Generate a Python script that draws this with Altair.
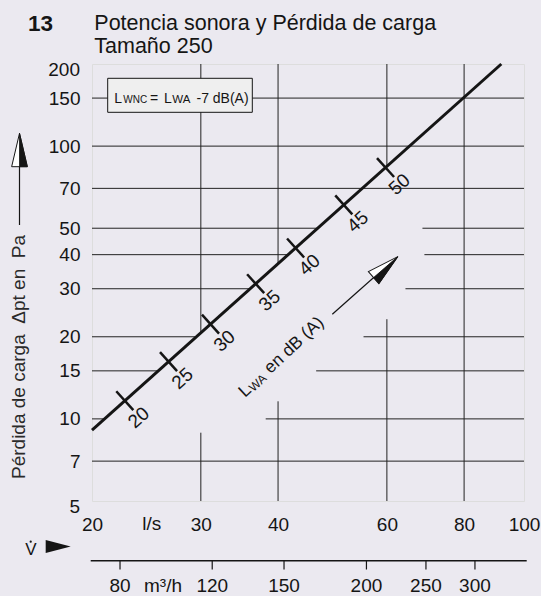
import altair as alt
import numpy as np
import pandas as pd

# ---- axis ticks ------------------------------------------------------------
flow_ticks = [20, 30, 40, 60, 80, 100]                         # l/s
dp_ticks = [7, 10, 15, 20, 30, 40, 50, 70, 100, 150]           # Pa (labelled by the axis)
dp_end_ticks = [5, 200]                                        # Pa (labels nudged off the frame)

# ---- pressure-loss characteristic (straight line on log-log axes) ----------
curve_flow = [20.0, 91.9]
curve_dp = [9.1, 200.0]

# ---- sound power level marks along the characteristic ---------------------
lwa_db = [20, 25, 30, 35, 40, 45, 50]
lwa_flow = [22.6, 26.6, 31.1, 36.8, 42.7, 51.1, 59.7]

# ---- secondary flow scale in m3/h (tick label, position on the l/s axis) ---
m3h_labels = [80, 120, 150, 200, 250, 300]
m3h_pos_ls = [22.2, 31.3, 40.9, 55.6, 69.4, 83.3]

# ---- grid layout: lines left open around the LWA annotation ----------------
h_full = [150, 100, 70, 7]
h_split_dp = [50, 40, 30, 20, 15, 10]
h_split_resume = [68.5, 69.0, 64.3, 55.0, 46.1, 38.2]
v_full = [80]
v_split_flow = [30, 40, 60]
v_split_low_end = [8.9, 11.6, 23.2]

FONT = "Liberation Sans"
INK = "#151515"

k = np.log(curve_dp[1] / curve_dp[0]) / np.log(curve_flow[1] / curve_flow[0])


def dp_on_curve(v):
    return curve_dp[0] * (v / curve_flow[0]) ** k


def flow_on_curve(p):
    return curve_flow[0] * (p / curve_dp[0]) ** (1.0 / k)


seg = []
for p in h_full:
    seg.append((20, 100, p, p))
for p, x_resume in zip(h_split_dp, h_split_resume):
    seg.append((20, flow_on_curve(p), p, p))
    seg.append((x_resume, 100, p, p))
for v in v_full:
    seg.append((v, v, 5, 200))
for v, low_end in zip(v_split_flow, v_split_low_end):
    seg.append((v, v, 5, low_end))
    seg.append((v, v, dp_on_curve(v), 200))
grid_df = pd.DataFrame(seg, columns=["x", "x2", "y", "y2"])

curve_df = pd.DataFrame({"flow": curve_flow, "dp": curve_dp})
marks_df = pd.DataFrame({
    "flow": lwa_flow,
    "dp": [dp_on_curve(v) for v in lwa_flow],
    "db": lwa_db,
})
m3h_df = pd.DataFrame({"pos": m3h_pos_ls, "label": m3h_labels})
end_df = pd.DataFrame({"dp": dp_end_ticks})
one = pd.DataFrame({"k": [0]})

xscale = alt.Scale(type="log", domain=[20, 100], nice=False)
yscale = alt.Scale(type="log", domain=[5, 200], nice=False)


def X(field, **kw):
    return alt.X(field, type="quantitative", scale=xscale, title=None, **kw)


def Y(field, **kw):
    return alt.Y(field, type="quantitative", scale=yscale, title=None, **kw)


def note(text, x, y, size=19, **kw):
    props = dict(text=text, font=FONT, fontSize=size, color=INK,
                 align="left", baseline="alphabetic")
    props.update(kw)
    return alt.Chart(one).mark_text(**props).encode(
        x=alt.value(x), y=alt.value(y))


# ---- grid + axes -----------------------------------------------------------
grid = alt.Chart(grid_df).mark_rule(color="#222222", strokeWidth=1).encode(
    x=alt.X("x:Q", scale=xscale, axis=alt.Axis(
        values=flow_ticks, format="d", title=None, grid=False, domain=False,
        ticks=False, labelFont=FONT, labelFontSize=19,
        labelColor=INK, labelPadding=29, labelBaseline="alphabetic",
        labelOverlap=False, labelFlush=False)),
    x2="x2:Q",
    y=alt.Y("y:Q", scale=yscale, axis=alt.Axis(
        values=dp_ticks, format="d", title=None, grid=False, domain=False,
        ticks=False, labelFont=FONT, labelFontSize=19,
        labelColor=INK, labelPadding=12, labelOverlap=False, labelFlush=False)),
    y2="y2:Q",
)

# end labels of the pressure axis sit just below their frame lines
end_labels = alt.Chart(end_df).mark_text(
    font=FONT, fontSize=19, color=INK, align="right", baseline="middle",
    dy=6).encode(x=alt.value(-12), y=Y("dp"), text=alt.Text("dp:Q", format="d"))

# ---- formula box -----------------------------------------------------------
box = alt.Chart(one).mark_rect(fill="#efefef", stroke=INK, strokeWidth=1).encode(
    x=alt.value(15.7), x2=alt.value(160.3), y=alt.value(14.3), y2=alt.value(48.3))
box_text = [
    note("L", 22.3, 38.7, 14),
    note("WNC", 31.3, 38.7, 10),
    note("=", 58.0, 38.7, 14),
    note("L", 72.0, 38.7, 14),
    note("WA", 80.3, 38.7, 11.5),
    note("-7 dB(A)", 104.5, 38.7, 14),
]

# ---- characteristic line with sound-power marks -----------------------------
curve = alt.Chart(curve_df).mark_line(color=INK, strokeWidth=3).encode(
    x=X("flow"), y=Y("dp"))
ticks = alt.Chart(marks_df).mark_point(
    shape="stroke", size=650, angle=48, strokeWidth=2.5, color=INK,
    opacity=1).encode(x=X("flow"), y=Y("dp"))
tick_labels = alt.Chart(marks_df).mark_text(
    font=FONT, fontSize=19, color=INK, angle=318, align="center",
    baseline="middle", dx=-1, dy=22).encode(
    x=X("flow"), y=Y("dp"), text=alt.Text("db:Q", format="d"))

# ---- "LWA en dB (A)" annotation with arrow ---------------------------------
ANG = 317
lwa_text = [
    alt.Chart(one).mark_text(text="L", font=FONT, fontSize=17.5, color=INK,
                             angle=ANG, align="left", baseline="alphabetic",
                             dx=0).encode(x=alt.value(153), y=alt.value(334)),
    alt.Chart(one).mark_text(text="WA", font=FONT, fontSize=12, color=INK,
                             angle=ANG, align="left", baseline="alphabetic",
                             dx=10.2, dy=1.5).encode(x=alt.value(153), y=alt.value(334)),
    alt.Chart(one).mark_text(text="en dB (A)", font=FONT, fontSize=17.5, color=INK,
                             angle=ANG, align="left", baseline="alphabetic",
                             dx=35).encode(x=alt.value(153), y=alt.value(334)),
]

HEAD = "M1,0L-1,-0.5L-1,0.5Z"
HEAD_HALF = "M1,0L-1,0L-1,0.5Z"

lwa_shaft = alt.Chart(one).mark_rule(color=INK, strokeWidth=1.2).encode(
    x=alt.value(240.3), y=alt.value(250.3), x2=alt.value(281.7), y2=alt.value(213.5))
lwa_head = alt.Chart(one).mark_point(
    shape=HEAD, size=1024, angle=319, filled=True, fill="#ffffff",
    stroke=INK, strokeWidth=1, opacity=1).encode(x=alt.value(293.7), y=alt.value(203.1))
lwa_head_fill = alt.Chart(one).mark_point(
    shape=HEAD_HALF, size=1024, angle=319, filled=True, fill=INK,
    stroke=INK, strokeWidth=0.8, opacity=1).encode(x=alt.value(293.7), y=alt.value(203.1))

# ---- y title with arrow ----------------------------------------------------
HEAD_Y = "M1,0L-1,-0.47L-1,0.47Z"
HEAD_Y_HALF = "M1,0L-1,0L-1,0.47Z"
y_title = alt.Chart(one).mark_text(
    text="Pérdida de carga\u00a0\u00a0Δpt en\u00a0\u00a0Pa", font=FONT,
    fontSize=19, color="#2a2a2a", angle=270, align="center",
    baseline="alphabetic").encode(x=alt.value(-67.5), y=alt.value(293))
y_shaft = alt.Chart(one).mark_rule(color=INK, strokeWidth=1.2).encode(
    x=alt.value(-72.5), y=alt.value(100), y2=alt.value(161))
y_head = alt.Chart(one).mark_point(
    shape=HEAD_Y, size=1116, angle=270, filled=True, fill="#ffffff",
    stroke=INK, strokeWidth=1, opacity=1).encode(x=alt.value(-72.5), y=alt.value(86))
y_head_fill = alt.Chart(one).mark_point(
    shape=HEAD_Y_HALF, size=1116, angle=270, filled=True, fill=INK,
    stroke=INK, strokeWidth=0.8, opacity=1).encode(x=alt.value(-72.5), y=alt.value(86))

# ---- volume flow symbol ----------------------------------------------------
v_sym = note("V", -61, 491, 17, align="center")
v_dot = alt.Chart(one).mark_point(shape="circle", size=5, filled=True,
                                  color=INK, opacity=1).encode(
    x=alt.value(-61.3), y=alt.value(477.7))
v_arrow = alt.Chart(one).mark_point(
    shape="M1,0L-1,-0.52L-1,0.52Z", size=625, filled=True, color=INK,
    opacity=1).encode(x=alt.value(-33.8), y=alt.value(482.5))

# ---- secondary m3/h scale --------------------------------------------------
m3h_line = alt.Chart(one).mark_rule(color=INK, strokeWidth=1.5).encode(
    x=alt.value(-1.3), x2=alt.value(434.7), y=alt.value(496.7))
m3h_ticks = alt.Chart(m3h_df).mark_rule(color=INK, strokeWidth=1.2).encode(
    x=X("pos"), y=alt.value(496.7), y2=alt.value(505.5))
m3h_text = alt.Chart(m3h_df).mark_text(
    font=FONT, fontSize=19, color=INK, align="center",
    baseline="alphabetic").encode(
    x=X("pos"), y=alt.value(527.7), text=alt.Text("label:Q", format="d"))
m3h_unit = note("m³/h", 71, 527.7, 19, align="center")
ls_unit = note("l/s", 59.7, 466, 19, align="center")

# ---- heading ---------------------------------------------------------------
heading = [
    note("13", -64, -33.3, 22.5, fontWeight="bold"),
    note("Potencia sonora y Pérdida de carga", 2.3, -34, 21.5),
    note("Tamaño 250", 2.3, -10.7, 21.5),
]

chart = alt.layer(
    grid, end_labels, box, *box_text, curve, ticks, tick_labels, *lwa_text,
    lwa_shaft, lwa_head, lwa_head_fill,
    y_title, y_shaft, y_head, y_head_fill,
    v_sym, v_dot, v_arrow,
    m3h_line, m3h_ticks, m3h_text, m3h_unit, ls_unit,
    *heading,
).properties(
    width=432, height=437,
    autosize=alt.AutoSizeParams(type="none"),
    padding={"left": 92, "top": 64, "right": 17, "bottom": 95},
    background="#ebe9f0",
).configure_view(
    stroke=INK, strokeWidth=1.5, fill="#efefef",
).configure(font=FONT)

chart.save("out.html", embed_options={"renderer": "svg", "actions": False})
